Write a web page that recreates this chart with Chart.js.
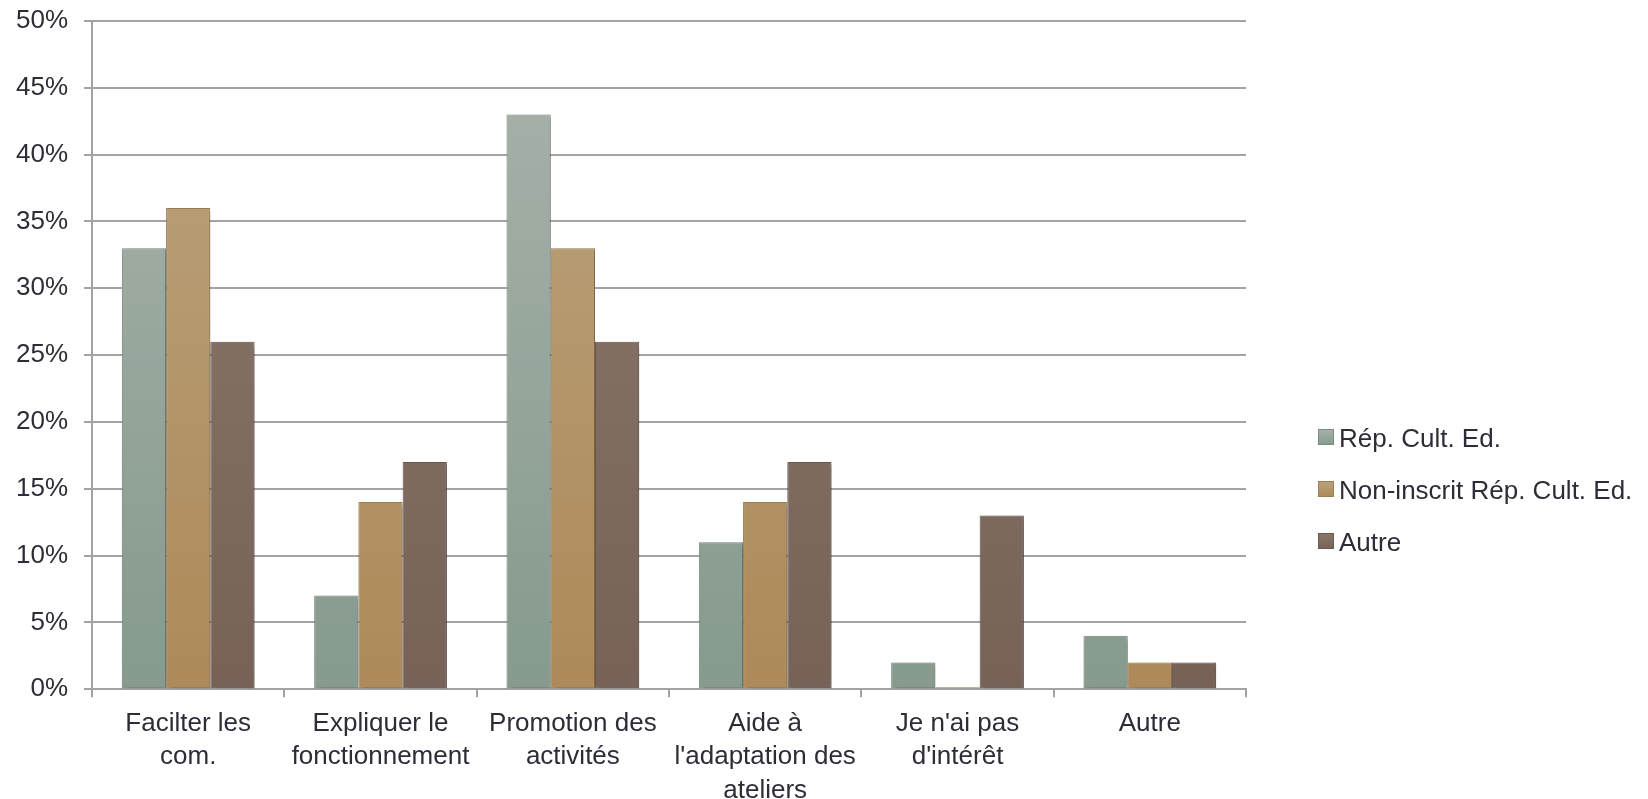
<!DOCTYPE html>
<html>
<head>
<meta charset="utf-8">
<script src="https://cdn.jsdelivr.net/npm/chart.js@4"></script>
<style>
  html, body { margin: 0; padding: 0; background: #ffffff; }
  #caja { width: 1648px; height: 799px; }
</style>
</head>
<body>
<div id="caja"><canvas id="grafico" width="1648" height="799"></canvas></div>
<script>
// categorias del eje x (en varias lineas como en el original)
const categorias = [
    ['Facilter les', 'com.'],
    ['Expliquer le', 'fonctionnement'],
    ['Promotion des', 'activités'],
    ['Aide à', "l'adaptation des", 'ateliers'],
    ["Je n'ai pas", "d'intérêt"],
    ['Autre']
];

// valores de cada serie, en %
const rep_cult_ed = [33, 7, 43, 11, 2, 4];
const non_inscrit = [36, 14, 33, 14, 0, 2];
const autre = [26, 17, 26, 17, 13, 2];

const nombres_series = ['Rép. Cult. Ed.', 'Non-inscrit Rép. Cult. Ed.', 'Autre'];

const fuente = 'Liberation Sans, Arial, Helvetica, sans-serif';
const color_texto = '#2d2d38';

// colores: arriba / abajo del degradado y borde
const colores = [
    { arriba: '#a9b3ab', abajo: '#869a8e', borde: '#7d8c82' },
    { arriba: '#bba37f', abajo: '#ad8a58', borde: '#9b7f55' },
    { arriba: '#8b796e', abajo: '#786257', borde: '#675a52' }
];

// degradado vertical para cada barra
function degradado(color) {
    return function (ctx) {
        const area = ctx.chart.chartArea;
        if (!area) return color.arriba;
        const g = ctx.chart.ctx.createLinearGradient(0, area.top, 0, area.bottom);
        g.addColorStop(0, color.arriba);
        g.addColorStop(1, color.abajo);
        return g;
    };
}

// sombrita debajo de las barras
const sombra = {
    id: 'sombra',
    beforeDatasetsDraw(chart) {
        const c = chart.ctx;
        c.save();
        c.shadowColor = 'rgba(0,0,0,0.35)';
        c.shadowBlur = 5;
        c.shadowOffsetX = 2;
        c.shadowOffsetY = 2;
    },
    afterDatasetsDraw(chart) {
        chart.ctx.restore();
    }
};

// leyenda propia, a la derecha del area del grafico
const leyenda = {
    id: 'leyenda',
    afterDraw(chart) {
        const c = chart.ctx;
        const x = chart.chartArea.right + 72;
        const y0 = 439;
        const paso = 52;
        c.save();
        c.font = '26px ' + fuente;
        c.textBaseline = 'middle';
        c.textAlign = 'left';
        chart.data.datasets.forEach((d, i) => {
            const y = y0 + i * paso;
            const g = c.createLinearGradient(0, y - 10, 0, y + 6);
            g.addColorStop(0, colores[i].arriba);
            g.addColorStop(1, colores[i].abajo);
            c.fillStyle = g;
            c.fillRect(x, y - 10, 16, 16);
            c.strokeStyle = colores[i].borde;
            c.lineWidth = 1;
            c.strokeRect(x + 0.5, y - 9.5, 15, 15);
            c.fillStyle = color_texto;
            c.fillText(d.label, x + 21, y + 1);
        });
        c.restore();
    }
};

const series = [rep_cult_ed, non_inscrit, autre].map((datos, i) => ({
    label: nombres_series[i],
    data: datos,
    backgroundColor: degradado(colores[i]),
    borderColor: colores[i].borde,
    borderWidth: 1,
    borderSkipped: false,
    minBarLength: 2,
    categoryPercentage: 0.69,
    barPercentage: 1.0
}));

new Chart(document.getElementById('grafico').getContext('2d'), {
    type: 'bar',
    data: { labels: categorias, datasets: series },
    plugins: [sombra, leyenda],
    options: {
        responsive: false,
        animation: false,
        layout: { padding: { top: 21, right: 402, left: 0, bottom: -18 } },
        plugins: {
            tooltip: { enabled: false },
            legend: { display: false }
        },
        scales: {
            x: {
                grid: {
                    drawOnChartArea: false,
                    drawTicks: true,
                    tickLength: 8,
                    color: '#a3a3a3',
                    lineWidth: 2
                },
                border: { color: '#a3a3a3', width: 2 },
                ticks: {
                    color: color_texto,
                    font: { family: fuente, size: 26, lineHeight: 1.28 },
                    maxRotation: 0,
                    autoSkip: false,
                    padding: 10
                }
            },
            y: {
                min: 0,
                max: 50,
                // el margen de arriba lo pone layout.padding.top
                afterFit(escala) { escala.paddingTop = 0; },
                grid: {
                    color: '#a3a3a3',
                    lineWidth: 2,
                    tickLength: 8
                },
                border: { color: '#a3a3a3', width: 2 },
                ticks: {
                    stepSize: 5,
                    color: color_texto,
                    font: { family: fuente, size: 26 },
                    padding: 16,
                    callback: v => v + '%'
                }
            }
        }
    }
});
</script>
</body>
</html>
